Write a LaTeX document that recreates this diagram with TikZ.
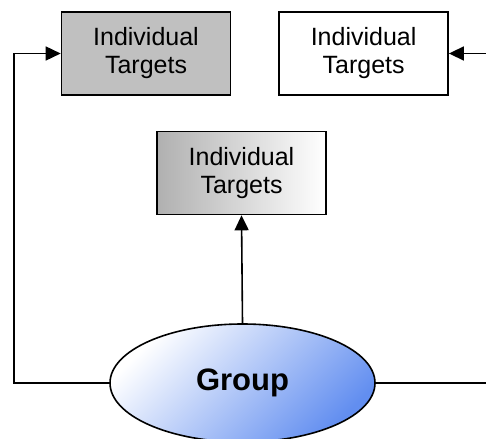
\documentclass[tikz,border=0pt]{standalone}
\usepackage{fontspec}
\setmainfont{Liberation Sans}
\usepackage{tikz}
\usetikzlibrary{arrows.meta, positioning, shapes.geometric}
\definecolor{groupblue}{RGB}{98,142,240}
\definecolor{boxgrey}{RGB}{192,192,192}
\definecolor{fadegrey}{RGB}{176,176,176}

\begin{document}
\begin{tikzpicture}[
    x=1pt, y=-1pt,
    target/.style={
        rectangle, draw=black, line width=1.6pt,
        minimum width=169pt, minimum height=83pt,
        inner sep=0pt, align=center,
        font=\fontsize{25}{28}\selectfont
    },
    group/.style={
        ellipse, draw=black, line width=1.6pt,
        minimum width=265pt, minimum height=118pt, inner sep=0pt,
        top color=white, bottom color=groupblue, shading angle=45,
        font=\bfseries\fontsize{31}{36}\selectfont
    },
    arr/.style={-{Triangle[length=15pt, width=14pt]}, line width=1.6pt, black}
]
\clip (0,0) rectangle (486,438);

% Targets
\node[target, fill=boxgrey] (grey) at (146,53.5) {Individual\\Targets};
\node[target, fill=white, right=47pt of grey] (plain) {Individual\\Targets};
\node[target, left color=fadegrey, right color=white] (faded) at (241.5,173) {Individual\\Targets};

% Group
\node[group] (grp) at (242.5,383) {Group};

% Arrows
\coordinate (lft) at (14,383);
\coordinate (rgt) at (494,383);
\draw[arr] (grp.west) -- (lft) |- (grey.west);
\draw[arr] (grp.east) -- (rgt) |- (plain.east);
\draw[arr] (grp.north) -- (faded.south);

\end{tikzpicture}
\end{document}
